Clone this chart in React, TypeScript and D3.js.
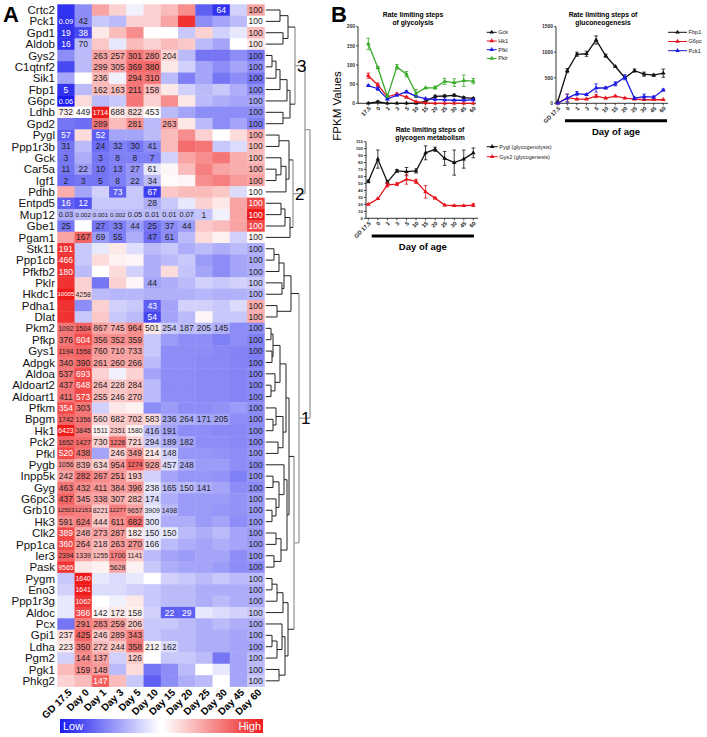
import React from "react";
import * as d3 from "d3";

const FONT = "Arial, 'Liberation Sans', Helvetica, sans-serif";

// ---------------- Panel A data ----------------
const genes = [
  "Crtc2","Pck1","Gpd1","Aldob","Gys2","C1qtnf2","Sik1","Fbp1","G6pc","Ldhb","Gpd2",
  "Pygl","Ppp1r3b","Gck","Car5a","Igf1","Pdhb","Entpd5","Mup12","Gbe1","Pgam1",
  "Stk11","Ppp1cb","Pfkfb2","Pklr","Hkdc1","Pdha1","Dlat","Pkm2","Pfkp","Gys1","Adpgk",
  "Aldoa","Aldoart2","Aldoart1","Pfkm","Bpgm","Hk1","Pck2","Pfkl","Pygb","Inpp5k","Gyg",
  "G6pc3","Grb10","Hk3","Clk2","Ppp1ca","Ier3","Pask","Pygm","Eno3","Ppp1r3g","Aldoc",
  "Pcx","Gpi1","Ldha","Pgm2","Pgk1","Phkg2"
];

const timepoints = ["GD 17.5","Day 0","Day 1","Day 3","Day 5","Day 10","Day 15","Day 20","Day 25","Day 30","Day 45","Day 60"];

// relative expression level (row-scaled), blue (-) .. red (+)
const heatLevels: number[][] = [
  [-4.5,-2.5,2,1,-0.3,1,1.5,2.5,-3.5,-4.5,-1,2],
  [-4.5,-2.5,-1.2,-1.5,1,1,2,4.5,-2.5,-2,-1.5,0],
  [-4.5,-4,0.5,1.5,2.5,0,0,-1.2,1,-1,-0.5,1.5],
  [-4.5,-1.5,1.2,-0.5,1.5,1,1.5,1.2,-1.5,-2,0,0.5],
  [-2.5,-1.5,2,2,3,2.5,1,-1.5,-3,-3,-2.5,-3],
  [-4,-1.5,2,2,3.3,3.3,0.5,-1,-2,-2.5,-2,-2.5],
  [-2,0,1.5,-0.3,3,3,-1.5,-2.8,-2,-3,-2.5,-3],
  [-4.5,-1.5,1.5,1.5,3,1.5,0.5,-1,-1.5,-1.2,-1.8,-2.5],
  [-5,0.8,-1.5,-1.2,3,1,2.5,0.5,-1.5,-1.8,-2,-2],
  [0.3,0,5,0.5,0.8,0,-1.5,-2,-2.5,-2.5,-2.5,-2.5],
  [-3,-3.2,3,1.5,2.5,-1.5,2,0.5,-1.5,-2.5,-2,-2.8],
  [-3.5,0.8,-3.5,-2,-2,-1.5,1.5,2.5,1,0,0.8,1.8],
  [-3,-1.5,-3.2,-2.8,-3,-2.5,1.5,3.2,3,-1.2,-0.8,1.5],
  [-3,-1.8,-3,-2.8,-2.8,-2.8,-1,2,2.5,3,1.8,1.5],
  [-3,-2.2,-3,-2.8,-2.3,-0.5,0.2,1.5,2.8,2,1.8,1.8],
  [-3.2,-3,-3,-2.8,-2.3,-1.5,0.1,0.2,2.5,2.8,2.2,2],
  [1.8,-2,-1,-3.5,-1.2,-4.2,1.2,1.5,1.5,1.2,-0.8,0],
  [-3.5,-3.8,-1.2,-1.2,-1.2,-1.8,-1.2,-0.5,1,0.5,2,4],
  [-1.8,-1.5,-1.5,-1.5,-1.5,-1.5,-1.5,-1.5,-1.3,-0.3,2,5],
  [-3,0,-3,-2.8,-2.2,-3,-2.5,-2.2,1.2,1.5,2,4],
  [2,3.4,-2.2,-2.8,-1.8,-3.2,-2.5,-1.5,0.8,0.3,-1,0.2],
  [4.5,-1.2,-0.5,0.5,-0.7,-1.5,-1.2,-1.8,-1.5,-1.8,-1.5,-1.8],
  [4.5,-1.2,0.8,0.3,0.2,-1.8,-1.5,-1.2,-2.2,-2.5,-2,-1.8],
  [4.5,-1.5,0,0.8,-1,-1.8,0.8,-1.3,-2,-2.5,-2,-1.8],
  [4.5,1,-3,1,0.2,-2,-1.8,-1.5,-1,-1.2,-1,-1.2],
  [5,1,-1.5,-1.6,-1.6,-1.7,-1.7,-1.7,-1.6,-1.7,-1.7,-1.6],
  [4.5,-2.5,1,-1,-1.2,-3.5,-2,-1,-1,-1.2,-0.8,1.8],
  [4.5,-1.2,1.2,-1.2,-1.5,-4,-2,-1.5,0.2,-1.2,-1.2,1.8],
  [3,3.4,2,1.8,2.5,0.5,-1.2,-1.5,-1.5,-1.8,-2.5,-2.5],
  [3,4,2.5,2.5,2.5,-1.2,-2.2,-2.5,-2.5,-2.8,-2.5,-2.8],
  [3.3,3.4,2.2,2,2,-1.2,-2.5,-2.5,-2.5,-2.6,-2.7,-2.8],
  [3,3.3,2,2,2,-1.5,-2.5,-2.5,-2.6,-2.6,-2.7,-2.8],
  [3,4,1,-0.3,1,-2,-2.5,-2.5,-2.6,-2.6,-2.7,-2.6],
  [3,4,1.5,1.2,1.5,-1.5,-2.5,-2.5,-2.6,-2.6,-2.7,-2.6],
  [3,4,1.5,1.2,1.5,-1.5,-2.5,-2.5,-2.6,-2.6,-2.7,-2.6],
  [4,3,-1,0.5,0.3,-2.5,-2.2,-2.5,-2.5,-2.4,-2.2,-2.5],
  [3.4,3,1,1.2,1.3,0.8,-1.8,-1.8,-2,-2,-2.5,-2.5],
  [5,3,0.3,1.2,0.3,-1.5,-2,-2.5,-2.5,-2.6,-2.6,-2.5],
  [3.4,3.3,1,3,1,-1.2,-1.8,-2,-2.5,-2.5,-2.6,-2.5],
  [4,3,-2,1,2.2,0.5,-1,-2.3,-2.3,-2.4,-2.5,-2.3],
  [2.5,1.8,1,2.2,3.4,2,-0.8,-1.8,-2.2,-2.2,-2.5,-2.5],
  [2,3,2.5,2.3,1.2,-1,-2,-2.3,-2.3,-2.4,-2.8,-2.3],
  [3,2.5,2.3,2.2,2.3,-0.5,-1.5,-1.5,-1.8,-2,-2.5,-2.5],
  [3.4,2.2,2,1.8,1.5,-0.8,-1.8,-2.2,-2.2,-2.2,-2.4,-2.2],
  [3,2.8,1.2,2.8,2,-0.5,-1.5,-2.2,-2.2,-2.3,-2.4,-2.2],
  [2.5,2.8,1.2,2.5,3.2,-0.5,-1.8,-1.8,-2.2,-2,-2.5,-2.2],
  [4,1.8,2,2.2,0.5,-0.5,-0.5,-1.5,-1.8,-1.5,-2,-2.2],
  [4,2.2,1.5,2.2,2.3,-0.5,-1.5,-1.8,-2,-1.8,-2,-2.2],
  [3.4,2,1.5,2.8,1.2,-1.5,-2,-2.2,-2,-2,-2.5,-2.2],
  [4.5,0.5,0.3,2,0.3,-1.2,-1.8,-2,-2,-2.2,-2.5,-2.5],
  [-1.2,5,-0.5,-0.8,-0.5,0,-1,-1.2,-1.5,-1.2,-1.5,-1.5],
  [-1,5,-0.8,-0.8,-1,-1.2,-1.5,-1.5,-1.8,-1.8,-1.8,-1.8],
  [-0.5,4.5,0,-0.3,0.5,-1.2,-1.5,-1.5,-1.8,-1.5,-1.8,-1.8],
  [-0.5,4,0.2,0.5,0.3,-1,-3.5,-3.5,-0.5,-0.8,-1,-1.2],
  [-3,2.8,2.5,2.2,1.2,-1.2,-1.2,-1.5,-1.8,-1.5,-1.8,-1.8],
  [0.8,3.4,1.2,2,2.8,-1.2,-1.5,-1.5,-1.8,-1.8,-2,-1.8],
  [0.5,2.8,1.5,1.2,3,0.2,-0.8,-1.5,-1.8,-1.8,-2,-2],
  [-1,2.5,2,-1,1.2,0,-1.2,-1.2,-1.5,-3,-2,-1.5],
  [1.5,2.5,2.2,-1.5,0.8,-3,-2.5,-1.5,0,-0.5,-2,-1.5],
  [1,1.5,3.5,1.5,-1.2,-3.5,-2.5,-1.8,-1.5,0,-2,-1.2]
];

// percent of Day 60 printed in cells ("" = not printed)
const cellLabelRows = [
  ",,,,,,,,,64,,100",
  "0.09,42,,,,,,,,,,100",
  "19,38,,,,,,,,,,100",
  "16,70,,,,,,,,,,100",
  ",,263,257,301,280,204,,,,,100",
  ",,299,305,369,380,,,,,,100",
  ",,236,,294,310,,,,,,100",
  "5,,162,163,211,158,,,,,,100",
  "0.06,,,,,,,,,,,100",
  "732,449,1714,688,822,453,,,,,,100",
  ",,289,,281,,263,,,,,100",
  "57,,52,,,,,,,,,100",
  "31,,24,32,30,41,,,,,,100",
  "3,,3,8,8,7,,,,,,100",
  "11,22,10,13,27,61,,,,,,100",
  "2,3,5,8,22,34,,,,,,100",
  ",,,73,,67,,,,,,100",
  "16,12,,,,28,,,,,,100",
  "0.03,0.002,0.001,0.002,0.05,0.01,0.01,0.07,1,,,100",
  "25,,27,33,44,25,37,44,,,,100",
  ",167,69,55,,47,61,,,,,100",
  "191,,,,,,,,,,,100",
  "466,,,,,,,,,,,100",
  "180,,,,,,,,,,,100",
  ",,,,,44,,,,,,100",
  "10005,4258,,,,,,,,,,100",
  ",,,,,43,,,,,,100",
  ",,,,,54,,,,,,100",
  "1092,1504,867,745,964,501,254,187,205,145,,100",
  "376,604,356,352,359,,,,,,,100",
  "1194,1558,760,710,733,,,,,,,100",
  "340,390,261,260,266,,,,,,,100",
  "537,693,,,,,,,,,,100",
  "437,648,264,228,284,,,,,,,100",
  "411,573,255,246,270,,,,,,,100",
  "354,303,,,,,,,,,,100",
  "1742,1356,560,682,702,583,236,264,171,205,,100",
  "6423,3845,1511,2351,1580,416,191,,,,,100",
  "1652,1427,730,1226,721,294,189,182,,,,100",
  "520,438,,246,349,214,148,,,,,100",
  "1056,839,634,954,1274,928,457,248,,,,100",
  "242,282,267,251,193,,,,,,,100",
  "463,432,411,384,396,238,165,150,141,,,100",
  "437,345,338,307,282,174,,,,,,100",
  "12503,12153,8221,12277,9657,3909,1498,,,,,100",
  "591,624,444,611,682,300,,,,,,100",
  "389,248,273,287,182,150,150,,,,,100",
  "360,264,218,263,270,166,,,,,,100",
  "2394,1339,1255,1700,1141,,,,,,,100",
  "9565,,,5628,,,,,,,,100",
  ",1640,,,,,,,,,,100",
  ",1641,,,,,,,,,,100",
  ",1062,,,,,,,,,,100",
  ",366,142,172,158,,22,29,,,,100",
  ",291,283,259,206,,,,,,,100",
  "237,425,246,289,343,,,,,,,100",
  "223,350,272,244,358,212,162,,,,,100",
  ",144,137,,126,,,,,,,100",
  ",159,148,,,,,,,,,100",
  ",,147,,,,,,,,,100"
];

// dendrogram: [joinHeight, child, child]; leaves are row indices
const dendrogram: any = [310,
  [305,
    [295, [288, [280, 0, 1], [283, 2, 3]], [290, [287, [280, [276, [272, 4, 5], 6], 7], 8], [283, 9, 10]]],
    [293, [289, [279, 11, 12], [286, [281, 13, [276, 14, 15]], 16]], [290, [285, [281, 17, 18], 19], 20]]
  ],
  [299,
    [291, [284, [279, [274, 21, 22], 23], [282, 24, 25]], [277, 26, 27]],
    [294,
      [289,
        [286, [280, [273, [271, 28, 29], [272, 30, 31]], [275, 32, [271, 33, 34]]], [283, [276, 35, [273, 36, 37]], [278, 38, 39]]],
        [287, [284, 40, [279, [273, 41, 42], [276, 43, [272, 44, 45]]]], [281, [276, 46, 47], [274, 48, 49]]]
      ],
      [288, [283, [277, [272, 50, 51], 52], 53], [285, [282, 54, [277, [272, 55, 56], 57]], [279, 58, 59]]]
    ]
  ]
];
const clusterNames = ["3", "2", "1"];

// ---------------- Panel B data ----------------
const glyDays = ["17.5","0","1","3","5","10","15","20","25","30","45","60"];
const ageDays = ["GD 17.5","0","1","3","5","10","15","20","25","30","45","60"];

const gckVals = [0,4,0,0,0,0,5,18,19,21,15,13];
const gckErr = [1,2,0,0,0,0,1,3,3,3,2,2];
const hk1Vals = [72,48,17,24,16,4,1,0,0,0,0,0];
const hk1Err = [7,5,2,3,2,1,0,0,0,0,0,0];
const pfklVals = [46,38,11,21,30,18,12,10,9,8,8,9];
const pfklErr = [2,4,2,2,3,2,1,1,1,1,1,1];
const pklrVals = [155,93,18,95,76,26,40,41,57,54,59,58];
const pklrErr = [15,3,3,6,7,10,2,4,8,10,15,7];

const fbp1Vals = [30,640,960,970,1240,930,720,500,640,570,550,590];
const fbp1Err = [0,40,40,50,80,30,10,20,30,40,20,80];
const g6pcVals = [0,110,80,80,140,100,140,100,80,70,70,70];
const g6pcErr = [0,70,10,10,30,10,10,10,10,10,10,10];
const pck1Vals = [0,100,190,170,300,300,380,510,100,130,120,260];
const pck1Err = [0,80,40,20,80,20,40,50,20,50,20,20];

const pyglVals = [53,85,52,68,67,68,94,99,86,80,85,94];
const pyglErr = [2,13,2,2,6,3,10,3,10,18,13,7];
const gys2Vals = [20,28,48,49,56,53,38,29,19,18,18,19];
const gys2Err = [1,1,3,2,7,3,9,1,1,1,1,2];

// ---------------- geometry ----------------
const HX0 = 57.3, HX1 = 264.3, HY0 = 4.3, HY1 = 686.5;
const LEAF_X = 266;

const colorScale = d3.scaleLinear<string>()
  .domain([-5, 0, 5])
  .range(["#1b1bef", "#ffffff", "#ef1b1b"])
  .interpolate(d3.interpolateRgb)
  .clamp(true);

function Heatmap() {
  const xb = d3.scaleBand().domain(timepoints).range([HX0, HX1]);
  const yb = d3.scaleBand().domain(genes).range([HY0, HY1]);
  const cw = xb.bandwidth(), rh = yb.bandwidth();
  const labels = cellLabelRows.map((r) => r.split(","));

  const root = d3.hierarchy<any>(dendrogram, (d) => (Array.isArray(d) ? d.slice(1) : undefined));
  const pos = new Map<any, { x: number; y: number }>();
  root.eachAfter((n: any) => {
    if (!n.children) {
      pos.set(n, { x: LEAF_X, y: (yb(genes[n.data]) as number) + rh / 2 });
    } else {
      const ys = n.children.map((c: any) => pos.get(c)!.y);
      pos.set(n, { x: n.data[0], y: (d3.min(ys)! + d3.max(ys)!) / 2 });
    }
  });
  const segs: { x1: number; y1: number; x2: number; y2: number; hi: boolean }[] = [];
  root.each((n: any) => {
    if (!n.children) return;
    const p = pos.get(n)!;
    const ys = n.children.map((c: any) => pos.get(c)!.y);
    const hi = p.x >= 292;
    segs.push({ x1: p.x, x2: p.x, y1: d3.min(ys)!, y2: d3.max(ys)!, hi });
    n.children.forEach((c: any) => {
      const q = pos.get(c)!;
      segs.push({ x1: q.x, x2: p.x, y1: q.y, y2: q.y, hi: hi && q.x >= 292 });
    });
  });
  if (!root.children) return null;
  const c32: any = root.children[0];
  const clusterNodes = [c32.children[0], c32.children[1], root.children[1]];

  return (
    <g>
      <text x={3} y={22} fontSize={22} fontWeight="bold" fontFamily={FONT}>A</text>
      {genes.map((g, i) => (
        <g key={g}>
          <text x={55} y={(yb(g) as number) + rh / 2} dy="0.36em" textAnchor="end" fontSize={11.5} fontFamily={FONT} fill="#111">{g}</text>
          {timepoints.map((t, j) => (
            <rect key={t} x={xb(t)} y={yb(g)} width={cw + 0.4} height={rh + 0.4} fill={colorScale(heatLevels[i][j])} />
          ))}
        </g>
      ))}
      {genes.map((g, i) =>
        timepoints.map((t, j) => {
          const s = labels[i][j];
          if (!s) return null;
          const v = heatLevels[i][j];
          const fs = s.length <= 3 ? 8.5 : s.length === 4 ? (s.includes(".") ? 7.3 : 6.9) : 6.1;
          return (
            <text key={g + t} x={(xb(t) as number) + cw / 2} y={(yb(g) as number) + rh / 2} dy="0.36em" textAnchor="middle"
              fontSize={fs} fontFamily={FONT} fill={Math.abs(v) >= 3.5 ? "#fff" : "#222"}>{s}</text>
          );
        })
      )}
      {timepoints.map((t) => (
        <text key={t} transform={`translate(${(xb(t) as number) + cw / 2 + 4},${HY1 + 4}) rotate(-45)`} textAnchor="end" dy="0.35em"
          fontSize={10} fontWeight="bold" fontFamily={FONT}>{t}</text>
      ))}
      {segs.map((s, i) => (
        <line key={i} x1={s.x1} y1={s.y1} x2={s.x2} y2={s.y2} stroke={s.hi ? "#9a9a9a" : "#222"} strokeWidth={s.hi ? 1.3 : 1} />
      ))}
      {genes.map((g) => (
        <line key={"d" + g} x1={HX1 + 1.5} x2={LEAF_X} y1={(yb(g) as number) + rh / 2} y2={(yb(g) as number) + rh / 2} stroke="#222" />
      ))}
      {clusterNodes.map((n: any, i: number) => {
        const p = pos.get(n)!;
        return (
          <text key={i} x={p.x + 2} y={p.y} dy="0.36em" fontSize={17} fontFamily={FONT}>{clusterNames[i]}</text>
        );
      })}
      <defs>
        <linearGradient id="lg" x1="0" x2="1" y1="0" y2="0">
          <stop offset="0" stopColor="#1b1bef" />
          <stop offset="0.49" stopColor="#ffffff" />
          <stop offset="0.51" stopColor="#ffffff" />
          <stop offset="1" stopColor="#ef1b1b" />
        </linearGradient>
      </defs>
      <rect x={60} y={719} width={203} height={14} fill="url(#lg)" />
      <text x={63} y={726} dy="0.36em" fontSize={11} fill="#fff" fontFamily={FONT}>Low</text>
      <text x={261} y={726} dy="0.36em" fontSize={11} fill="#fff" textAnchor="end" fontFamily={FONT}>High</text>
    </g>
  );
}

type Series = { name: string; values: number[]; err: number[]; color: string };
type ChartCfg = {
  labels: string[];
  px0: number; px1: number; axisX: number; axisEnd: number;
  yTop: number; yBottom: number; yMax: number; ticks: number[];
  series: Series[];
  title: string[]; titleX: number; titleY: number;
  legX: number; legY: number; legStep: number; legLen: number;
  bar?: { x1: number; x2: number; y: number; textY: number };
  tickFont: number;
};

function LineChart({ cfg }: { cfg: ChartCfg }) {
  const x = d3.scaleLinear().domain([0, cfg.labels.length - 1]).range([cfg.px0, cfg.px1]);
  const y = d3.scaleLinear().domain([0, cfg.yMax]).range([cfg.yBottom, cfg.yTop]);
  const line = d3.line<number>().x((_, i) => x(i)).y((d) => y(d));
  const tri = d3.symbol().type(d3.symbolTriangle).size(9)() as string;
  return (
    <g fontFamily={FONT}>
      {cfg.title.map((t, i) => (
        <text key={i} x={cfg.titleX} y={cfg.titleY + i * 8} textAnchor="middle" fontSize={6.8} fontWeight="bold">{t}</text>
      ))}
      <line x1={cfg.axisX} x2={cfg.axisX} y1={y(cfg.yMax)} y2={cfg.yBottom} stroke="#000" strokeWidth={0.8} />
      <line x1={cfg.axisX} x2={cfg.axisEnd} y1={cfg.yBottom} y2={cfg.yBottom} stroke="#000" strokeWidth={0.8} />
      {cfg.ticks.map((t) => (
        <g key={t}>
          <line x1={cfg.axisX - 2} x2={cfg.axisX} y1={y(t)} y2={y(t)} stroke="#000" strokeWidth={0.7} />
          <text x={cfg.axisX - 3} y={y(t)} dy="0.35em" textAnchor="end" fontSize={cfg.tickFont} fontWeight="bold" fill="#333">{t}</text>
        </g>
      ))}
      {cfg.labels.map((l, i) => (
        <g key={l}>
          <line x1={x(i)} x2={x(i)} y1={cfg.yBottom} y2={cfg.yBottom + 2} stroke="#000" strokeWidth={0.7} />
          <text transform={`translate(${x(i) + 1.5},${cfg.yBottom + 4}) rotate(-45)`} textAnchor="end" dy="0.35em" fontSize={5.6} fontWeight="bold" fill="#222">{l}</text>
        </g>
      ))}
      {cfg.series.map((s) => (
        <g key={s.name}>
          {s.values.map((v, i) =>
            s.err[i] > 0 ? (
              <g key={i} stroke={s.color} strokeWidth={0.8}>
                <line x1={x(i)} x2={x(i)} y1={y(v + s.err[i])} y2={y(Math.max(0, v - s.err[i]))} />
                <line x1={x(i) - 1.8} x2={x(i) + 1.8} y1={y(v + s.err[i])} y2={y(v + s.err[i])} />
                <line x1={x(i) - 1.8} x2={x(i) + 1.8} y1={y(Math.max(0, v - s.err[i]))} y2={y(Math.max(0, v - s.err[i]))} />
              </g>
            ) : null
          )}
          <path d={line(s.values) as string} fill="none" stroke={s.color} strokeWidth={1.3} />
          {s.values.map((v, i) => (
            <path key={i} d={tri} transform={`translate(${x(i)},${y(v)})`} fill={s.color} />
          ))}
        </g>
      ))}
      {cfg.series.map((s, i) => {
        const ly = cfg.legY + i * cfg.legStep;
        return (
          <g key={"l" + s.name}>
            <line x1={cfg.legX} x2={cfg.legX + cfg.legLen} y1={ly} y2={ly} stroke={s.color} strokeWidth={1} />
            <path d={tri} transform={`translate(${cfg.legX + cfg.legLen / 2},${ly})`} fill={s.color} />
            <text x={cfg.legX + cfg.legLen + 1.5} y={ly} dy="0.35em" fontSize={5.6} fill="#222">{s.name}</text>
          </g>
        );
      })}
      {cfg.bar ? (
        <g>
          <line x1={cfg.bar.x1} x2={cfg.bar.x2} y1={cfg.bar.y} y2={cfg.bar.y} stroke="#000" strokeWidth={3} />
          <text x={(cfg.bar.x1 + cfg.bar.x2) / 2} y={cfg.bar.textY} textAnchor="middle" fontSize={9.5} fontWeight="bold">Day of age</text>
        </g>
      ) : null}
    </g>
  );
}

const glyCfg: ChartCfg = {
  labels: glyDays, px0: 368.3, px1: 473.3, axisX: 358, axisEnd: 476,
  yTop: 26.7, yBottom: 103.3, yMax: 200, ticks: [0, 50, 100, 150, 200],
  series: [
    { name: "Gck", values: gckVals, err: gckErr, color: "#111" },
    { name: "Hk1", values: hk1Vals, err: hk1Err, color: "#e8141c" },
    { name: "Pfkl", values: pfklVals, err: pfklErr, color: "#1a1ae0" },
    { name: "Pklr", values: pklrVals, err: pklrErr, color: "#3aaa2a" }
  ],
  title: ["Rate limiting steps", "of glycolysis"], titleX: 413, titleY: 17,
  legX: 486.7, legY: 32.3, legStep: 8.7, legLen: 10, tickFont: 5
};

const gngCfg: ChartCfg = {
  labels: ageDays, px0: 557.7, px1: 663.3, axisX: 556, axisEnd: 668,
  yTop: 26.7, yBottom: 103.3, yMax: 1500, ticks: [0, 500, 1000, 1500],
  series: [
    { name: "Fbp1", values: fbp1Vals, err: fbp1Err, color: "#111" },
    { name: "G6pc", values: g6pcVals, err: g6pcErr, color: "#e8141c" },
    { name: "Pck1", values: pck1Vals, err: pck1Err, color: "#1a1ae0" }
  ],
  title: ["Rate limiting steps of", "gluconeogenesis"], titleX: 603, titleY: 16.5,
  legX: 668, legY: 32.3, legStep: 9.2, legLen: 19, tickFont: 5,
  bar: { x1: 565, x2: 667, y: 120.7, textY: 134.5 }
};

const glgCfg: ChartCfg = {
  labels: ageDays, px0: 368.3, px1: 473.3, axisX: 366, axisEnd: 478,
  yTop: 141.7, yBottom: 218.3, yMax: 110, ticks: d3.range(0, 111, 10),
  series: [
    { name: "Pygl (glycogenolysis)", values: pyglVals, err: pyglErr, color: "#111" },
    { name: "Gys2 (glycogenesis)", values: gys2Vals, err: gys2Err, color: "#e8141c" }
  ],
  title: ["Rate limiting steps of", "glycogen metabolism"], titleX: 430, titleY: 131.5,
  legX: 486.7, legY: 146.7, legStep: 10, legLen: 11, tickFont: 4.4,
  bar: { x1: 371.7, x2: 474, y: 236, textY: 250 }
};

export default function App() {
  return (
    <div style={{ position: "absolute", left: 0, top: 0 }}>
      <svg width={707} height={737} viewBox="0 0 707 737" style={{ display: "block", background: "#fff" }}>
        <rect width={707} height={737} fill="#fff" />
        <Heatmap />
        <text x={331} y={22} fontSize={22} fontWeight="bold" fontFamily={FONT}>B</text>
        <text transform="translate(341,106) rotate(-90)" textAnchor="middle" fontSize={11.5} fontFamily={FONT}>FPKM Values</text>
        <LineChart cfg={glyCfg} />
        <LineChart cfg={gngCfg} />
        <LineChart cfg={glgCfg} />
      </svg>
    </div>
  );
}
